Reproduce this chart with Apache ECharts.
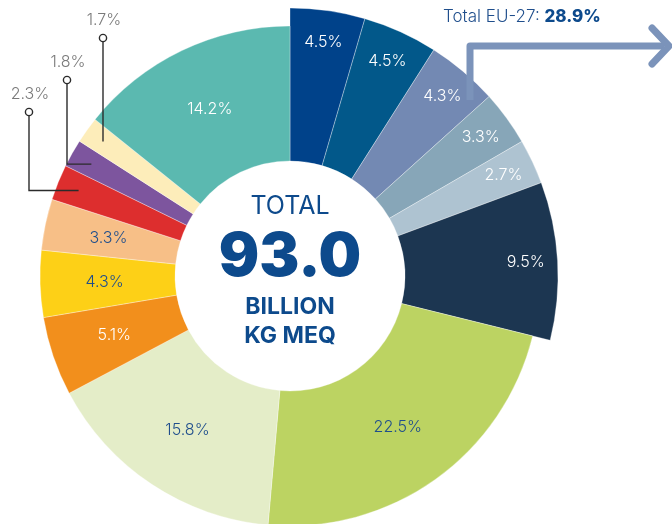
<!DOCTYPE html>
<html>
<head>
<meta charset="utf-8">
<script src="https://cdn.jsdelivr.net/npm/echarts@6/dist/echarts.min.js"></script>
<style>
  html, body { margin: 0; padding: 0; background: #ffffff; }
  #chart { width: 672px; height: 524px; }
</style>
</head>
<body>
<div id="chart"></div>
<script>
// Share of the total (%) per slice, clockwise from 12 o'clock
const shares = [4.5, 4.5, 4.3, 3.3, 2.7, 9.5, 22.5, 15.8, 5.1, 4.3, 3.3, 2.3, 1.8, 1.7, 14.2];
// The first six slices make up the EU-27 group
const euSlices = 6;
const sliceColors = ['#00428A', '#02588A', '#7389B3', '#87A6B8', '#AEC3D1', '#1C3651',
                     '#BCD362', '#E4EDC8', '#F28F1C', '#FDD017', '#F7BF87', '#DD2E2E',
                     '#7D559E', '#FDEDBA', '#5BB9B0'];
const labelColors = ['#fff', '#fff', '#fff', '#fff', '#fff', '#fff',
                     '#1F4E8C', '#1F4E8C', '#fff', '#1F4E8C', '#1F4E8C', null,
                     null, null, '#fff'];
// Small slices labelled outside with leader lines
const calloutSlices = [11, 12, 13];
const totalValue = '93.0';
const totalUnitLines = ['BILLION', 'KG MEQ'];
const euTotalText = '28.9%';

const CX = 290, CY = 276, R_IN = 115, R_EU = 268, R_REST = 250;
const FONT = 'Inter, Lato, "Noto Sans", sans-serif';

const chart = echarts.init(document.getElementById('chart'), null, { renderer: 'canvas' });

const total = shares.reduce((a, b) => a + b, 0);
// Point on a slice's mid-angle ray at radius r (clockwise from top)
function slicePoint(idx, r) {
  let before = 0;
  for (let i = 0; i < idx; i++) before += shares[i];
  const frac = (before + shares[idx] / 2) / total;
  const a = Math.PI / 2 - frac * 2 * Math.PI;
  return [CX + r * Math.cos(a), CY - r * Math.sin(a)];
}

const sep = { borderColor: 'rgba(255,255,255,0.55)', borderWidth: 0.6 };
function ringData(showFn, withLabels) {
  return shares.map((v, i) => {
    const on = showFn(i);
    const item = {
      value: v,
      itemStyle: on ? Object.assign({ color: sliceColors[i] }, sep) : { color: 'rgba(0,0,0,0)', borderWidth: 0 }
    };
    if (withLabels && on && labelColors[i]) {
      item.label = { show: true, color: labelColors[i] };
    } else {
      item.label = { show: false };
    }
    return item;
  });
}

const baseLabel = {
  position: 'inside',
  formatter: p => p.value + '%',
  fontFamily: FONT,
  fontWeight: 300,
  fontSize: 16
};

const pieCommon = {
  type: 'pie',
  center: [CX, CY],
  startAngle: 90,
  clockwise: true,
  avoidLabelOverlap: false,
  silent: true,
  animation: false,
  labelLine: { show: false },
  emphasis: { disabled: true }
};

// Leader-line callouts for the thin slices
const calloutPos = { 11: [29, 112], 12: [67, 80], 13: [103, 38] };
const graphics = [];
calloutSlices.forEach(idx => {
  const [mx, my] = calloutPos[idx];
  let end, pts;
  if (idx === 13) {
    // straight drop onto the slice's mid ray
    const [ux, uy] = slicePoint(idx, 1);
    const dx = (ux - CX), dy = (uy - CY);
    const t = (mx - CX) / dx;
    end = [mx, CY + dy * t];
    pts = [[mx, my + 4], end];
  } else {
    end = slicePoint(idx, 228);
    pts = [[mx, my + 4], [mx, end[1]], end];
  }
  graphics.push({
    type: 'polyline', z: 10,
    shape: { points: pts },
    style: { stroke: '#2b2b2b', lineWidth: 1.4, fill: null }
  });
  graphics.push({
    type: 'circle', z: 11,
    shape: { cx: mx, cy: my, r: 3.6 },
    style: { fill: '#fff', stroke: '#2b2b2b', lineWidth: 1.4 }
  });
  graphics.push({
    type: 'text', z: 11,
    style: {
      text: shares[idx] + '%', x: mx + 1, y: my - 18,
      align: 'center', verticalAlign: 'middle',
      fill: '#7a7a7a', fontSize: 16, fontWeight: 300, fontFamily: FONT
    }
  });
});

// Centre caption
graphics.push({
  type: 'text', z: 5,
  style: { text: 'TOTAL', x: CX, y: 206, align: 'center', verticalAlign: 'middle',
           fill: '#0D4A8C', fontSize: 25, fontWeight: 400, fontFamily: FONT }
});
graphics.push({
  type: 'text', z: 5,
  style: { text: totalValue, x: CX, y: 258, align: 'center', verticalAlign: 'middle',
           fill: '#0D4A8C', fontSize: 60, fontWeight: 900, fontFamily: FONT }
});
totalUnitLines.forEach((t, k) => {
  graphics.push({
    type: 'text', z: 5,
    style: { text: t, x: CX, y: 307 + k * 29, align: 'center', verticalAlign: 'middle',
             fill: '#0D4A8C', fontSize: 23, fontWeight: 700, fontFamily: FONT }
  });
});

// EU-27 bracket arrow and caption
graphics.push({
  type: 'polyline', z: 4,
  shape: { points: [[470, 100], [470, 46], [664, 46]] },
  style: { stroke: '#7B93BA', lineWidth: 7, fill: null, lineJoin: 'round', lineCap: 'butt' }
});
graphics.push({
  type: 'polyline', z: 4,
  shape: { points: [[652, 28], [669, 46], [652, 64]] },
  style: { stroke: '#7B93BA', lineWidth: 7, fill: null, lineJoin: 'round', lineCap: 'round' }
});
graphics.push({
  type: 'text', z: 5,
  style: {
    text: '{a|Total EU-27: }{b|' + euTotalText + '}',
    x: 443, y: 17, verticalAlign: 'middle',
    rich: {
      a: { fill: '#1F4E8C', fontSize: 17, fontWeight: 300, fontFamily: FONT },
      b: { fill: '#0D4A8C', fontSize: 17, fontWeight: 800, fontFamily: FONT }
    }
  }
});

chart.setOption({
  backgroundColor: '#ffffff',
  animation: false,
  series: [
    Object.assign({}, pieCommon, {
      name: 'eu-ring',
      radius: [R_IN, R_EU],
      data: ringData(i => i < euSlices, false)
    }),
    Object.assign({}, pieCommon, {
      name: 'rest-ring',
      radius: [R_IN, R_REST],
      label: baseLabel,
      data: ringData(i => i >= euSlices && calloutSlices.indexOf(i) < 0, true)
        .map((d, i) => {
          if (i >= euSlices && calloutSlices.indexOf(i) >= 0) {
            d.itemStyle = Object.assign({ color: sliceColors[i] }, sep);
          }
          return d;
        })
    }),
    // Label carrier for the EU slices, placed toward their outer edge
    Object.assign({}, pieCommon, {
      name: 'eu-labels',
      radius: [198, R_EU],
      label: baseLabel,
      data: shares.map((v, i) => ({
        value: v,
        itemStyle: { color: 'rgba(0,0,0,0)', borderWidth: 0 },
        label: i < euSlices ? { show: true, color: labelColors[i] } : { show: false }
      }))
    })
  ],
  graphic: graphics
});
</script>
</body>
</html>
